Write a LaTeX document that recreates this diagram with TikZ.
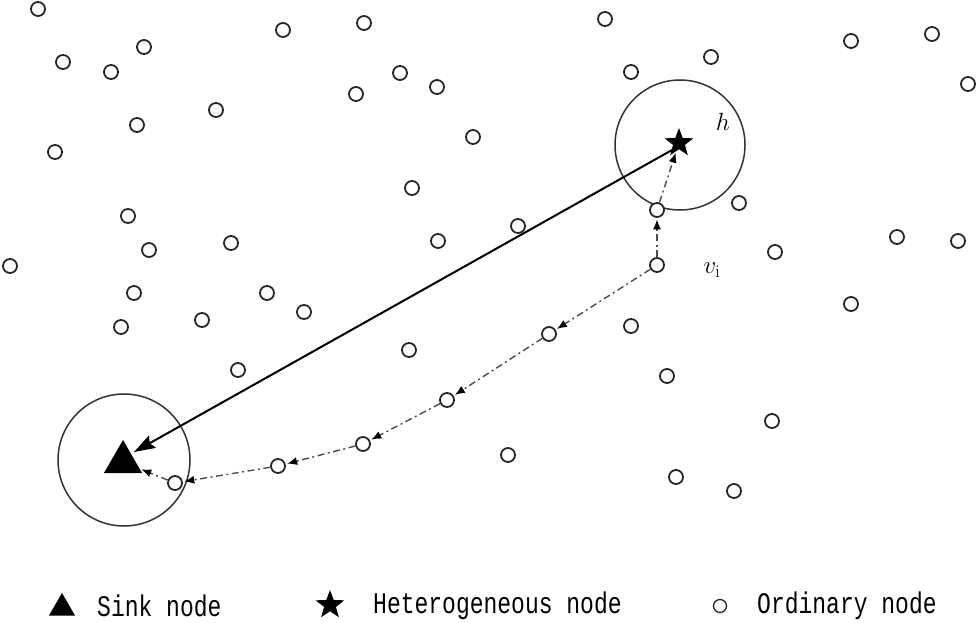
\documentclass[tikz,border=0pt]{standalone}
\usepackage{fontspec}
\newfontfamily\legfont{Liberation Mono}
\usetikzlibrary{shapes.geometric,arrows.meta}
\begin{document}
\begin{tikzpicture}[x=1pt,y=-1pt,
  ord/.style={circle,draw=black!85,line width=1.8pt,minimum size=14pt,inner sep=0pt,fill=white},
  ring/.style={circle,draw=black!80,line width=1.5pt,inner sep=0pt},
  dd/.style={draw=black!70,line width=1.4pt,dash pattern=on 7pt off 3.5pt on 2pt off 3.5pt,
    -{Latex[length=10pt,width=8pt,black]},shorten >=1.5pt},
  legtext/.style={anchor=west,inner sep=0pt}]
\useasboundingbox (0,0) rectangle (980,623);
% big rings
\node[ring,minimum size=130pt] (hr) at (680,145) {};
\node[ring,minimum size=132pt] (sr) at (124,460) {};
% ordinary nodes
\foreach \x/\y [count=\i] in {38/9,63/62,111/72,144/47,283/30,364/23,605/19,631/72,711/57,851/41,932/34,968/84,
 400/73,437/87,356/94,216/110,137/125,55/152,473/137,412/188,739/203,128/216,149/250,231/243,438/241,518/226,
 897/237,958/241,10/266,775/252,134/293,267/293,304/312,121/327,202/320,631/326,851/304,409/350,238/370,667/376,
 772/421,508/455,676/477,734/491}
  \node[ord] (o\i) at (\x,\y) {};
% path nodes
\node[ord] (p1) at (657,210) {};
\node[ord] (p2) at (657,265) {};
\node[ord] (p3) at (549,334) {};
\node[ord] (p4) at (447,400) {};
\node[ord] (p5) at (363,444) {};
\node[ord] (p6) at (278,466) {};
\node[ord] (p7) at (175,483) {};
% star and sink
\node[star,star points=5,star point ratio=2.4,fill=black,minimum size=30pt,inner sep=0pt] (hs) at (679,143) {};
\node[regular polygon,regular polygon sides=3,fill=black,minimum size=44pt,inner sep=0pt] (sk) at (123,462) {};
\coordinate (hsc) at (672,150);
\coordinate (skt) at (134,452);
% main arrow
\draw[line width=2pt,-{Stealth[length=21pt,width=14pt,inset=3pt]}] (hsc) -- (skt);
% dash-dot route
\draw[dd] (p2) -- (p1);
\draw[dd] (p1) -- (hs);
\draw[dd] (p2) -- (p3);
\draw[dd] (p3) -- (p4);
\draw[dd] (p4) -- (p5);
\draw[dd] (p5) -- (p6);
\draw[dd] (p6) -- (p7);
\draw[dd] (p7) -- (sk);
% labels
\node[font=\fontsize{28}{30}\selectfont,inner sep=0pt] (hl) at (723,122) {$h$};
\node[font=\fontsize{26}{28}\selectfont,inner sep=0pt] (vl) at (712,270) {$v_{\mathrm{i}}$};
% legend
\node[regular polygon,regular polygon sides=3,fill=black,minimum size=30pt,inner sep=0pt] (l1) at (62,608) {};
\node[legtext] (t1) at (97,606) {\scalebox{1}[1.3]{\legfont\fontsize{23}{25}\selectfont Sink node}};
\node[star,star points=5,star point ratio=2.4,fill=black,minimum size=30pt,inner sep=0pt] (l2) at (330,605) {};
\node[legtext] (t2) at (373,606) {\scalebox{1}[1.3]{\legfont\fontsize{23}{25}\selectfont Heterogeneous node}};
\node[ord,minimum size=13pt,line width=1.3pt] (l3) at (720,606) {};
\node[legtext] (t3) at (757,606) {\scalebox{1}[1.3]{\legfont\fontsize{23}{25}\selectfont Ordinary node}};
\end{tikzpicture}
\end{document}
